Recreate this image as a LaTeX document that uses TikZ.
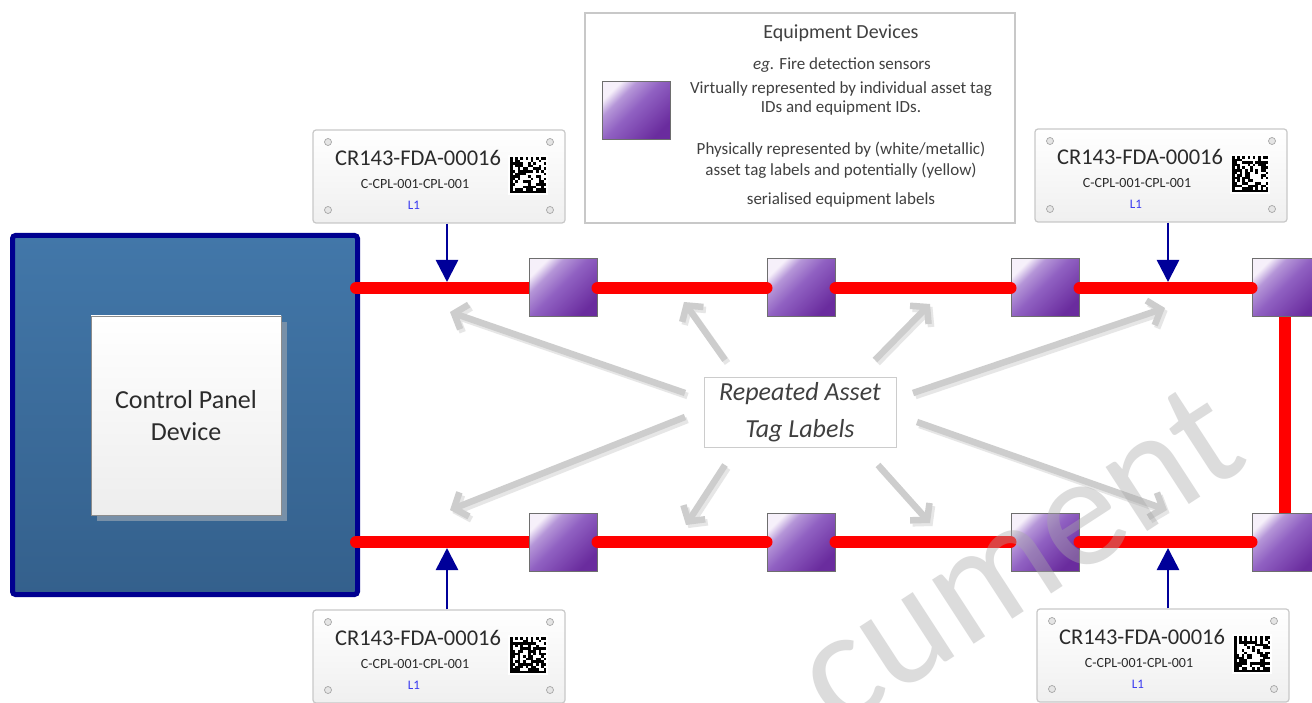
\documentclass[tikz,border=0pt]{standalone}
\usepackage{fontspec}
\setmainfont{Carlito}
\usetikzlibrary{arrows.meta,shadows}

\definecolor{panelEdge}{HTML}{000090}
\definecolor{panelTop}{HTML}{4277A9}
\definecolor{panelBot}{HTML}{34608C}
\definecolor{faceShade}{HTML}{7890A8}
\definecolor{inkDark}{HTML}{2B2B2B}
\definecolor{inkMid}{HTML}{404040}
\definecolor{devEdge}{HTML}{6E6E6E}
\definecolor{devLight}{HTML}{F6F0FA}
\definecolor{devPale}{HTML}{B596D8}
\definecolor{devMid}{HTML}{9061C2}
\definecolor{devDark}{HTML}{6A2C9E}
\definecolor{wireRed}{HTML}{FF0000}
\definecolor{tagNavy}{HTML}{000099}
\definecolor{hintGray}{HTML}{CDCDCD}
\definecolor{hintShade}{HTML}{E6E6E6}
\definecolor{frameGray}{HTML}{C8C8C8}
\definecolor{loopBlue}{HTML}{3A3AF0}
\definecolor{wmGray}{HTML}{A8A8A8}

% diagonal sheen of the equipment device boxes
\pgfdeclareverticalshading{devshade}{100bp}{color(0bp)=(devDark); color(25bp)=(devDark);
  color(52bp)=(devMid); color(66bp)=(devPale); color(75bp)=(devLight); color(100bp)=(devLight)}

% 2D matrix code: top-left corner x, y and random seed
\newcommand\dmcode[3]{%
  \fill[white] (#1-2,#2-2) rectangle (#1+38.4,#2+38.4);
  \pgfmathsetseed{#3}%
  \foreach \ci in {0,...,13}{%
    \foreach \cj in {0,...,13}{%
      \pgfmathrandominteger{\dmv}{0}{1}%
      \ifnum\cj=0 \pgfmathtruncatemacro\dmv{1-mod(\ci,2)}\fi
      \ifnum\ci=13 \pgfmathtruncatemacro\dmv{mod(\cj+1,2)}\fi
      \ifnum\ci=0 \def\dmv{1}\fi
      \ifnum\cj=13 \def\dmv{1}\fi
      \ifnum\dmv=1 \fill[black] (#1+\ci*2.6,#2+\cj*2.6) rectangle ++(2.65,2.65);\fi
    }}}

% grey call-out arrow with its soft shadow
\newcommand\hintarrow[2]{%
  \draw[hintshade] (#1) -- (#2);
  \draw[hint] (#1) -- (#2);}

\tikzset{
  panel/.style={draw=panelEdge, line width=5pt, rounded corners=3pt,
    top color=panelTop, bottom color=panelBot,
    minimum width=345pt, minimum height=359pt, inner sep=0pt},
  facebox/.style={draw=black!45, line width=0.8pt, top color=white, bottom color=black!7,
    minimum width=190pt, minimum height=199pt, inner sep=0pt,
    general shadow={fill=faceShade, shadow xshift=6pt, shadow yshift=-6pt},
    font=\fontsize{26}{32}\selectfont, text=inkDark, align=center},
  device/.style={draw=devEdge, line width=1pt, minimum width=68pt, minimum height=58pt,
    inner sep=0pt, shade, shading=devshade, shading angle=45},
  wire/.style={draw=wireRed, line width=12pt, line cap=round},
  riser/.style={draw=wireRed, line width=12pt, line cap=butt},
  tagarrow/.style={draw=tagNavy, line width=2.5pt, -{Triangle[length=22pt,width=22pt]}},
  hint/.style={draw=hintGray, line width=6.5pt, -{Straight Barb[length=11pt,width=26pt]}},
  hintshade/.style={hint, draw=hintShade, transform canvas={xshift=2.5pt, yshift=-3pt}},
  tagbox/.style={draw=frameGray, line width=1.2pt, rounded corners=3pt,
    top color=white, bottom color=black!6, minimum width=252pt, minimum height=93pt},
  screw/.style={draw=black!35, fill=black!10, line width=0.7pt},
  tagid/.style={font=\fontsize{22.5}{24}\selectfont, text=inkDark, inner sep=0pt},
  tagref/.style={font=\fontsize{14}{15}\selectfont, text=inkDark, inner sep=0pt},
  tagloop/.style={font=\fontsize{13}{14}\selectfont, text=loopBlue, inner sep=0pt},
  legendbox/.style={draw=frameGray, line width=1.2pt, fill=white,
    minimum width=430pt, minimum height=210pt},
  legendhead/.style={font=\fontsize{20}{22}\selectfont, text=inkMid, inner sep=0pt},
  legendline/.style={font=\fontsize{17}{19}\selectfont, text=inkMid, inner sep=0pt},
  callout/.style={draw=black!20, line width=1pt, fill=white,
    minimum width=192pt, minimum height=70pt, align=center,
    font=\fontsize{26}{37}\selectfont\itshape, text=inkMid},
  watermark/.style={font=\fontsize{160}{160}\selectfont, text=wmGray, text opacity=0.4,
    inner sep=0pt},
  pics/assettag/.style={code={
    \node[tagbox] (-box) at (126,46.5) {};
    \foreach \sx/\sy in {15/12,237/12,15/80,237/80}
      \draw[screw] (\sx,\sy) circle[radius=3.5pt];
    \node[tagid] (-id) at (105,28) {CR143-FDA-00016};
    \node[tagref] (-ref) at (102,54) {C-CPL-001-CPL-001};
    \node[tagloop] (-loop) at (101,75) {L1};
    \dmcode{197}{27}{#1}
  }}
}

\begin{document}
\begin{tikzpicture}[x=1pt,y=-1pt]
\useasboundingbox (0,0) rectangle (1312,703);
\fill[white] (0,0) rectangle (1312,703);

% control panel
\node[panel] (panel) at (185,415) {};
\node[facebox] (face) at (186,415.5) {Control Panel\\Device};

% legend
\node[legendbox] (legend) at (800,118) {};
\node[device] (legdev) at (636,111) {};
\node[legendhead] (leghead) at (841,33) {Equipment Devices};
\node[legendline] (leg1) at (842,65) {\textit{eg.} Fire detection sensors};
\node[legendline] (leg2) at (841,89) {Virtually represented by individual asset tag};
\node[legendline] (leg3) at (841,108) {IDs and equipment IDs.};
\node[legendline] (leg4) at (841,150) {Physically represented by (white/metallic)};
\node[legendline] (leg5) at (841,171) {asset tag labels and potentially (yellow)};
\node[legendline] (leg6) at (841,200) {serialised equipment labels};

% asset tag labels
\pic (tagTL) at (313,130) {assettag=11};
\pic (tagTR) at (1035,129) {assettag=23};
\pic (tagBL) at (313,610) {assettag=37};
\pic (tagBR) at (1037,609) {assettag=41};

% loop wiring leaving the panel and the return riser
\coordinate (outTop) at (356,288);
\coordinate (outBot) at (356,542);
\coordinate (riseTop) at (1285,300);
\coordinate (riseBot) at (1285,530);
\draw[wire] (outTop) -- (563,288);
\draw[wire] (outBot) -- (563,542);
\draw[riser] (riseTop) -- (riseBot);

% equipment devices on the loop
\node[device] (d1t) at (563,288) {};
\node[device] (d2t) at (801,288) {};
\node[device] (d3t) at (1045,288) {};
\node[device] (d4t) at (1286,288) {};
\node[device] (d1b) at (563,542) {};
\node[device] (d2b) at (801,542) {};
\node[device] (d3b) at (1045,542) {};
\node[device] (d4b) at (1286,542) {};

\draw[wire] (d1t.east) -- (d2t.west);
\draw[wire] (d2t.east) -- (d3t.west);
\draw[wire] (d3t.east) -- (d4t.west);
\draw[wire] (d1b.east) -- (d2b.west);
\draw[wire] (d2b.east) -- (d3b.west);
\draw[wire] (d3b.east) -- (d4b.west);

% tag pointers
\coordinate (hitTL) at (447,282);
\coordinate (hitTR) at (1168,282);
\coordinate (hitBL) at (447,548);
\coordinate (hitBR) at (1168,548);
\draw[tagarrow] (tagTL-box.south -| hitTL) -- (hitTL);
\draw[tagarrow] (tagTR-box.south -| hitTR) -- (hitTR);
\draw[tagarrow] (tagBL-box.north -| hitBL) -- (hitBL);
\draw[tagarrow] (tagBR-box.north -| hitBR) -- (hitBR);

% call-out
\node[callout] (lbl) at (800,412) {Repeated Asset\\Tag Labels};
\coordinate (s1) at (685,393);  \coordinate (e1) at (450,312);
\coordinate (s2) at (685,417);  \coordinate (e2) at (450,510);
\coordinate (s3) at (725,360);  \coordinate (e3) at (684,302);
\coordinate (s4) at (875,360);  \coordinate (e4) at (930,304);
\coordinate (s5) at (913,393);  \coordinate (e5) at (1165,308);
\coordinate (s6) at (917,422);  \coordinate (e6) at (1167,510);
\coordinate (s7) at (878,465);  \coordinate (e7) at (930,523);
\coordinate (s8) at (725,465);  \coordinate (e8) at (686,525);
\hintarrow{s1}{e1}
\hintarrow{s2}{e2}
\hintarrow{s3}{e3}
\hintarrow{s4}{e4}
\hintarrow{s5}{e5}
\hintarrow{s6}{e6}
\hintarrow{s7}{e7}
\hintarrow{s8}{e8}

% faint diagonal stamp
\node[watermark, rotate=33, anchor=base west] (wm) at (837,733) {cument};
\end{tikzpicture}
\end{document}
